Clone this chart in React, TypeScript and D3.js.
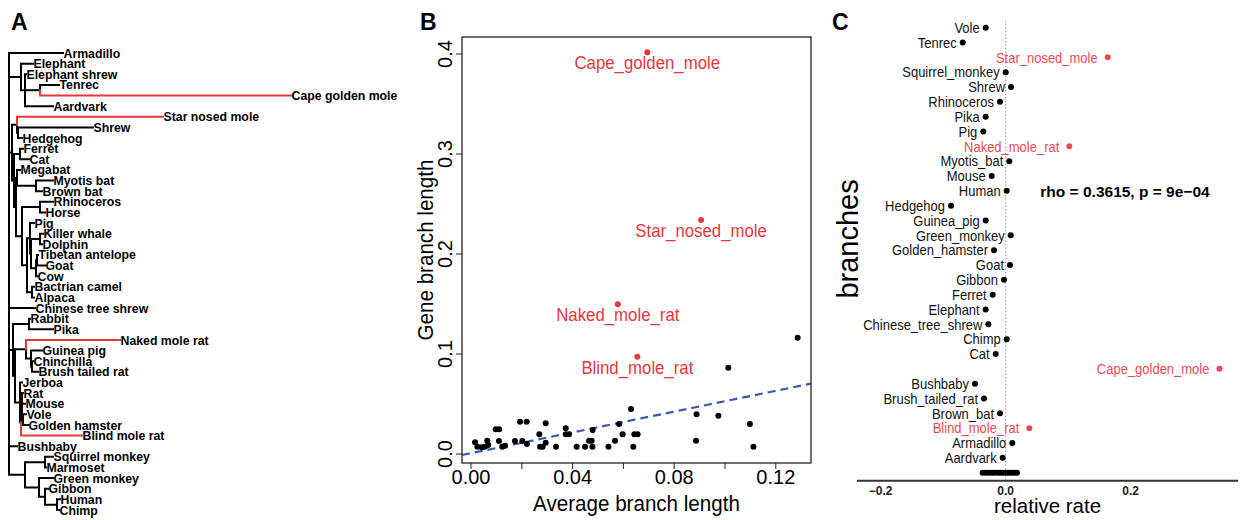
import React from "react";
import * as d3 from "d3";

// ---------------- Panel A: phylogeny (Newick with branch lengths) ----------------
const TREE_NEWICK =
  "(Armadillo:54,(Elephant:12,(Elephant_shrew:1,(Tenrec:19,Cape_golden_mole:251):15,Aardvark:28):4):12," +
  "((Star_nosed_mole:146,(Shrew:75,Hedgehog:4):1):5,((Ferret:3,Cat:9):6,((Megabat:3,(Myotis_bat:17,Brown_bat:6):19):1," +
  "((Rhinoceros:13,Horse:5):18,((Pig:4,((Killer_whale:3,Dolphin:2):9,((Tibetan_antelope:1,Goat:8):1,Cow:1):5):1):3," +
  "(Bactrian_camel:2,Alpaca:2):5):5):6):2):2):3,Chinese_tree_shrew:26,((Rabbit:1,Pika:24):16," +
  "((Naked_mole_rat:94,(Guinea_pig:11,(Chinchilla:1,Brush_tailed_rat:6):1):5):11,(Jerboa:2,(((Rat:1,Mouse:3):0," +
  "(Vole:3,Golden_hamster:5):1):1,Blind_mole_rat:61):1):5):2):4,Bushbaby:8,((Squirrel_monkey:8,Marmoset:1):20," +
  "(Green_monkey:14,(Gibbon:3,(Human:3,Chimp:2):12):6):14):16);";
const RED_TIPS = ["Cape_golden_mole", "Star_nosed_mole", "Naked_mole_rat", "Blind_mole_rat"];

// ---------------- Panel B: scatter ----------------
const B_AVG = [
  0.0016, 0.0025, 0.0042, 0.0055, 0.0064, 0.0068, 0.0097, 0.0111, 0.011, 0.0123, 0.0134, 0.0173, 0.0193, 0.0202,
  0.0219, 0.022, 0.0269, 0.0272, 0.0282, 0.0294, 0.0294, 0.0335, 0.0373, 0.0373, 0.0386, 0.0416, 0.0449, 0.0465,
  0.0475, 0.0478, 0.0479, 0.0541, 0.0567, 0.0583, 0.0597, 0.063, 0.0639, 0.0643, 0.0656, 0.0888, 0.0886, 0.0974,
  0.1013, 0.1098, 0.1112, 0.1286,
];
const B_GENE = [
  0.0117, 0.0073, 0.0067, 0.0073, 0.0133, 0.009, 0.0247, 0.0247, 0.013, 0.0073, 0.0083, 0.013, 0.0323, 0.013, 0.0323,
  0.01, 0.0197, 0.0073, 0.0073, 0.0113, 0.0307, 0.0073, 0.0257, 0.0197, 0.0197, 0.0073, 0.0073, 0.0133, 0.0133,
  0.0073, 0.024, 0.0073, 0.0133, 0.03, 0.0197, 0.045, 0.0073, 0.0197, 0.0197, 0.0397, 0.0133, 0.0383, 0.0863, 0.03,
  0.0073, 0.1163,
];
const B_RED_NAMES = ["Cape_golden_mole", "Star_nosed_mole", "Naked_mole_rat", "Blind_mole_rat"];
const B_RED_AVG = [0.0694, 0.0906, 0.0578, 0.0655];
const B_RED_GENE = [0.4017, 0.234, 0.1497, 0.0973];
const B_X_TICKS = [0, 0.02, 0.04, 0.06, 0.08, 0.1, 0.12];
const B_X_LABELS = [0, 0.04, 0.08, 0.12];
const B_Y_TICKS = [0, 0.1, 0.2, 0.3, 0.4];
const LM_INTERCEPT = 0.0008;
const LM_SLOPE = 0.52;

// ---------------- Panel C: relative rates ----------------
const C_NAMES = [
  "Vole", "Tenrec", "Star_nosed_mole", "Squirrel_monkey", "Shrew", "Rhinoceros", "Pika", "Pig", "Naked_mole_rat",
  "Myotis_bat", "Mouse", "Human", "Hedgehog", "Guinea_pig", "Green_monkey", "Golden_hamster", "Goat", "Gibbon",
  "Ferret", "Elephant", "Chinese_tree_shrew", "Chimp", "Cat", "Cape_golden_mole", "Bushbaby", "Brush_tailed_rat",
  "Brown_bat", "Blind_mole_rat", "Armadillo", "Aardvark",
];
const C_RATES = [
  -0.032, -0.0688, 0.1632, 0.0, 0.0085, -0.0091, -0.032, -0.0358, 0.1018, 0.0058, -0.0224, 0.0016, -0.0875, -0.032,
  0.008, -0.0187, 0.0069, -0.0027, -0.0208, -0.032, -0.0278, 0.0016, -0.016, 0.342, -0.0491, -0.0347, -0.0091,
  0.0378, 0.0106, -0.0048,
];
const C_RED = ["Star_nosed_mole", "Naked_mole_rat", "Cape_golden_mole", "Blind_mole_rat"];
const C_UNLABELED_RATES = [-0.037, -0.032, -0.027, -0.022, -0.018, -0.013, -0.009, -0.005, -0.001, 0.003, 0.007, 0.011, 0.015, 0.018];
const C_X_TICKS = [-0.2, 0, 0.2];
const C_X_LIM = [-0.238, 0.372];
const C_STAT = "rho = 0.3615, p = 9e\u221204";

const FONT = "'Liberation Sans', Arial, Helvetica, sans-serif";
const RED_A = "#e8363c";
const RED_C = "#ef4a52";
const NARROW = 0.91;

type TNode = { name: string; len: number; children: TNode[]; x?: number; y?: number; parent?: TNode };

function parseNewick(src: string): TNode {
  const s = src.replace(/\s+/g, "").replace(/;$/, "");
  let i = 0;
  function node(): TNode {
    const n: TNode = { name: "", len: 0, children: [] };
    if (s[i] === "(") {
      i++;
      n.children.push(node());
      while (s[i] === ",") {
        i++;
        n.children.push(node());
      }
      i++;
    }
    let name = "";
    while (i < s.length && !",):".includes(s[i])) name += s[i++];
    n.name = name;
    if (s[i] === ":") {
      i++;
      let num = "";
      while (i < s.length && !",)".includes(s[i])) num += s[i++];
      n.len = parseFloat(num);
    }
    return n;
  }
  return node();
}

// Narrow text: horizontally condensed, like the reference's rendering
function NText(props: {
  x: number; y: number; size: number; anchor?: string; rotate?: number; fill?: string; weight?: string;
  dy?: string; children: React.ReactNode; sx?: number;
}) {
  const sx = props.sx ?? NARROW;
  const t = `translate(${props.x},${props.y})${props.rotate ? ` rotate(${props.rotate})` : ""} scale(${sx},1)`;
  return (
    <text
      transform={t}
      textAnchor={props.anchor ?? "start"}
      fontSize={props.size / sx}
      fill={props.fill ?? "#000"}
      fontWeight={props.weight ?? "normal"}
      dy={props.dy}
    >
      {props.children}
    </text>
  );
}

function TreePanel() {
  const root = parseNewick(TREE_NEWICK);
  const leaves: TNode[] = [];
  const all: TNode[] = [];
  function walk(n: TNode, depth: number, parent?: TNode) {
    n.x = depth;
    n.parent = parent;
    all.push(n);
    if (n.children.length === 0) leaves.push(n);
    n.children.forEach((c) => walk(c, depth + c.len, n));
  }
  walk(root, 0);
  const maxDepth = d3.max(leaves, (l) => l.x as number) as number;
  const xs = d3.scaleLinear().domain([0, maxDepth]).range([9, 9 + maxDepth]);
  const ys = d3.scaleLinear().domain([0, leaves.length - 1]).range([53, 510]);
  leaves.forEach((l, i) => (l.y = ys(i)));
  function setY(n: TNode): number {
    if (n.children.length === 0) return n.y as number;
    n.y = d3.mean(n.children.map(setY)) as number;
    return n.y;
  }
  setY(root);
  const isRed = (n: TNode) => RED_TIPS.includes(n.name);
  const edges = all.filter((n) => n.parent).sort((a, b) => (isRed(a) ? 1 : 0) - (isRed(b) ? 1 : 0));
  return (
    <g fontFamily={FONT}>
      {edges.map((n, i) => {
        const p = n.parent as TNode;
        const d = `M${xs(p.x as number)},${p.y}V${n.y}H${xs(n.x as number)}`;
        return (
          <path key={i} d={d} fill="none" stroke={isRed(n) ? RED_A : "#000"} strokeWidth={2} strokeLinecap="square" />
        );
      })}
      {leaves.map((l, i) => (
        <NText key={"t" + i} x={xs(l.x as number) + 0.5} y={l.y as number} dy="0.36em" size={12.3} weight="bold" sx={0.97}>
          {l.name.replace(/_/g, " ")}
        </NText>
      ))}
    </g>
  );
}

function ScatterPanel() {
  const L = 462, R = 811, T = 37, B = 463;
  const x = d3.scaleLinear().domain([0, 0.04]).range([471, 572.6]);
  const y = d3.scaleLinear().domain([0, 0.4]).range([454, 54]);
  const x0 = x.invert(L), x1 = x.invert(R);
  return (
    <g fontFamily={FONT}>
      <defs>
        <clipPath id="bclip">
          <rect x={L} y={T} width={R - L} height={B - T} />
        </clipPath>
      </defs>
      <line
        x1={x(x0)} y1={y(LM_INTERCEPT + LM_SLOPE * x0)} x2={x(x1)} y2={y(LM_INTERCEPT + LM_SLOPE * x1)}
        stroke="#3a5aa8" strokeWidth={2.2} strokeDasharray="8,5" clipPath="url(#bclip)"
      />
      {B_AVG.map((v, i) => (
        <circle key={i} cx={x(v)} cy={y(B_GENE[i])} r={3} fill="#000" />
      ))}
      {B_RED_NAMES.map((n, i) => (
        <g key={n}>
          <circle cx={x(B_RED_AVG[i])} cy={y(B_RED_GENE[i])} r={3} fill={RED_A} />
          <NText x={x(B_RED_AVG[i])} y={y(B_RED_GENE[i]) + 17} anchor="middle" size={16.8} fill={RED_A}>
            {n}
          </NText>
        </g>
      ))}
      <rect x={L} y={T} width={R - L} height={B - T} fill="none" stroke="#222" strokeWidth={1.3} />
      {B_X_TICKS.map((t) => (
        <line key={t} x1={x(t)} x2={x(t)} y1={B} y2={B + 6} stroke="#222" strokeWidth={1} />
      ))}
      {B_X_LABELS.map((t) => (
        <NText key={t} x={x(t)} y={484} anchor="middle" size={20} sx={0.95}>
          {d3.format(".2f")(t)}
        </NText>
      ))}
      {B_Y_TICKS.map((t) => (
        <g key={t}>
          <line x1={L - 6} x2={L} y1={y(t)} y2={y(t)} stroke="#222" strokeWidth={1} />
          <NText x={452} y={y(t)} rotate={-90} anchor="middle" size={20} sx={0.95}>
            {d3.format(".1f")(t)}
          </NText>
        </g>
      ))}
      <NText x={(L + R) / 2} y={511} anchor="middle" size={20.6}>
        Average branch length
      </NText>
      <NText x={433} y={250} rotate={-90} anchor="middle" size={20.6}>
        Gene branch length
      </NText>
    </g>
  );
}

function RatePanel() {
  const x = d3.scaleLinear().domain([-0.2, 0.2]).range([880.7, 1130.7]);
  const rows = [...C_NAMES, ""];
  const y = d3.scalePoint<string>().domain(rows.map((_, i) => String(i))).range([27.7, 472.7]);
  const axisY = 480.7;
  return (
    <g fontFamily={FONT}>
      <line x1={x(0)} x2={x(0)} y1={20} y2={axisY} stroke="#999" strokeWidth={1} strokeDasharray="1.5,2" />
      {C_NAMES.map((n, i) => {
        const red = C_RED.includes(n);
        const cy = y(String(i)) as number;
        const cx = x(C_RATES[i]);
        return (
          <g key={n}>
            <circle cx={cx} cy={cy} r={3} fill={red ? RED_C : "#000"} />
            <NText x={cx - (red ? 10 : 6)} y={cy} dy="0.36em" anchor="end" size={13} fill={red ? RED_C : "#111"}>
              {n}
            </NText>
          </g>
        );
      })}
      {C_UNLABELED_RATES.map((v, i) => (
        <circle key={"u" + i} cx={x(v)} cy={y(String(C_NAMES.length)) as number} r={3} fill="#000" />
      ))}
      <line x1={x(C_X_LIM[0])} x2={x(C_X_LIM[1])} y1={axisY} y2={axisY} stroke="#333" strokeWidth={2} />
      {C_X_TICKS.map((t) => (
        <text key={t} x={x(t)} y={495} textAnchor="middle" fontSize={12} fontWeight="bold" fill="#222">
          {t === 0 ? "0.0" : d3.format(".1f")(t).replace("-", "\u2212")}
        </text>
      ))}
      <text x={(x(C_X_LIM[0]) + x(C_X_LIM[1])) / 2} y={513} textAnchor="middle" fontSize={20.5}>
        relative rate
      </text>
      <NText x={858} y={239} rotate={-90} anchor="middle" size={29} sx={0.97}>
        branches
      </NText>
      <text x={1125} y={191} dy="0.36em" textAnchor="middle" fontSize={15.5} fontWeight="bold">
        {C_STAT}
      </text>
    </g>
  );
}

export default function App() {
  return (
    <svg
      width={1245}
      height={520}
      style={{ position: "absolute", left: 0, top: 0, background: "#fff" }}
      xmlns="http://www.w3.org/2000/svg"
    >
      <rect width={1245} height={520} fill="#fff" />
      <g fontFamily={FONT} fontWeight="bold" fontSize={23}>
        <text x={11} y={30}>A</text>
        <text x={420} y={30}>B</text>
        <text x={832} y={30}>C</text>
      </g>
      <TreePanel />
      <ScatterPanel />
      <RatePanel />
    </svg>
  );
}
